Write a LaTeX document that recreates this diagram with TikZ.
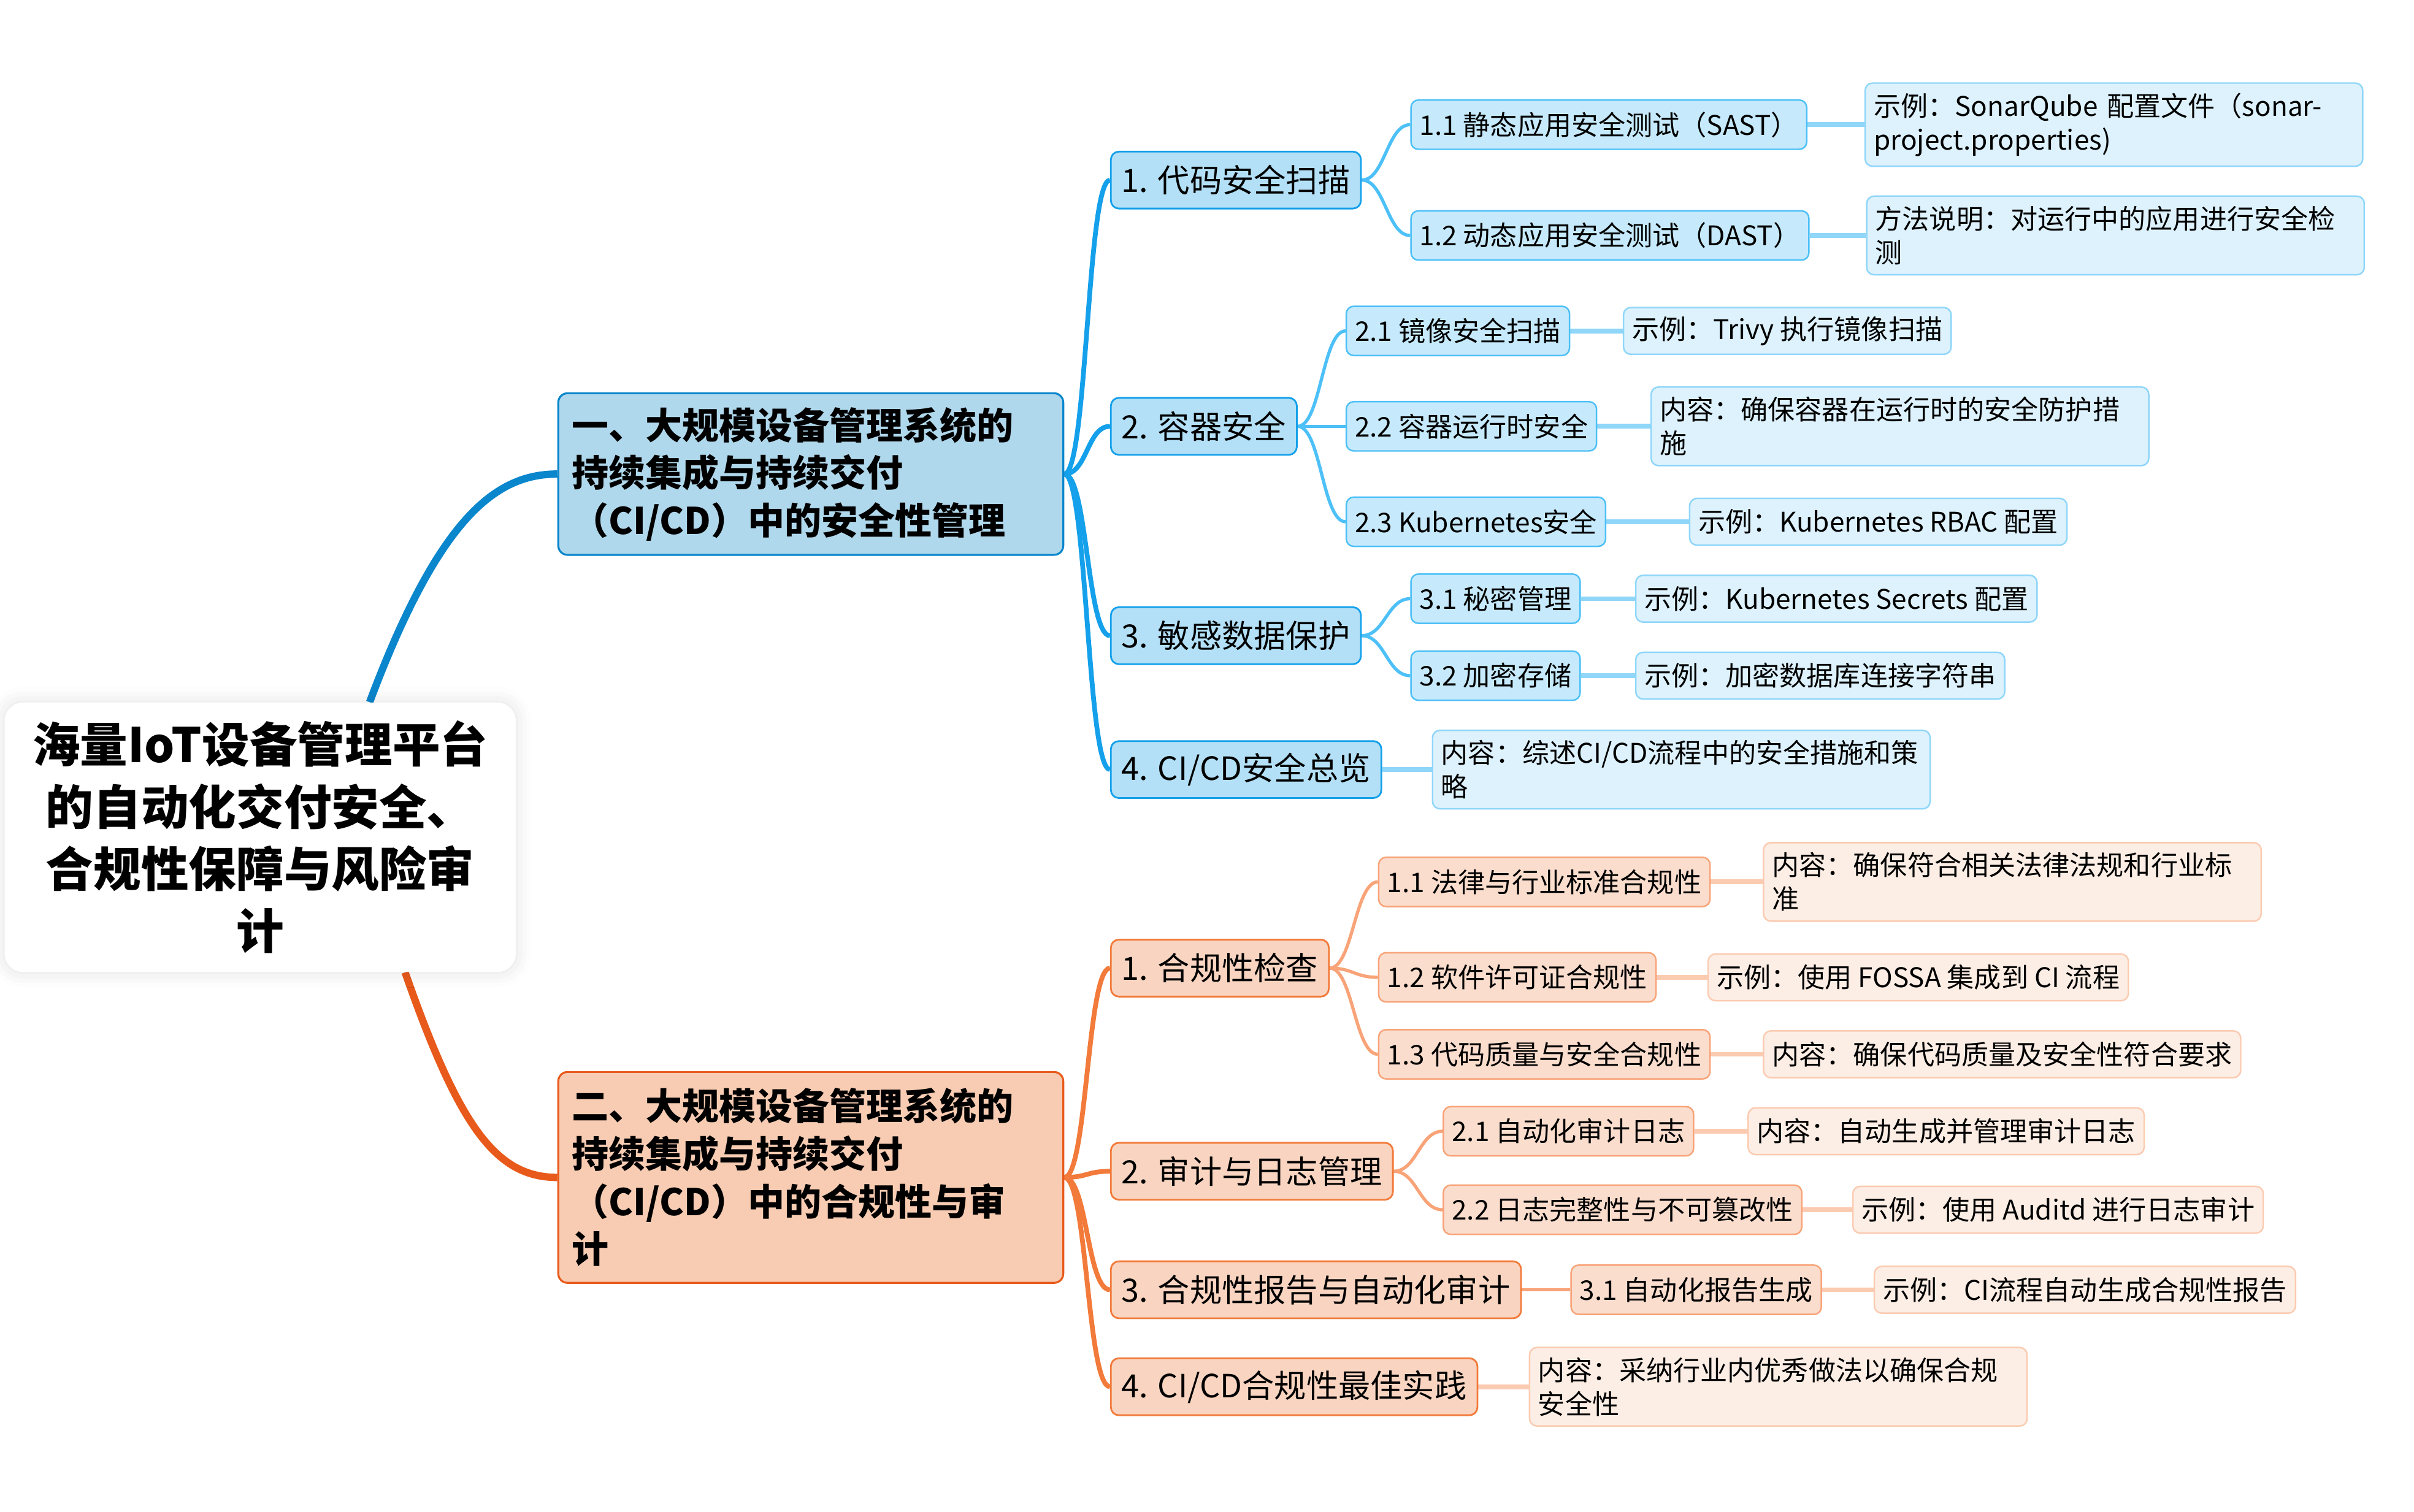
\documentclass[tikz,border=0pt]{standalone}
\usepackage{fontspec}
\setmainfont{Noto Sans CJK SC}
\usetikzlibrary{backgrounds,shadows.blur}

\definecolor{secline}{HTML}{0A86CC}
\definecolor{secfill}{HTML}{B0D8EC}
\definecolor{secAline}{HTML}{14A0EA}
\definecolor{secAfill}{HTML}{B3E0F6}
\definecolor{secBline}{HTML}{4DC0F7}
\definecolor{secBfill}{HTML}{C6EAFC}
\definecolor{secCline}{HTML}{8FD6F9}
\definecolor{secCfill}{HTML}{DDF2FD}
\definecolor{cmpline}{HTML}{E85A1B}
\definecolor{cmpfill}{HTML}{F7CCB2}
\definecolor{cmpAline}{HTML}{F27A3A}
\definecolor{cmpAfill}{HTML}{F9D5C1}
\definecolor{cmpBline}{HTML}{F8A378}
\definecolor{cmpBfill}{HTML}{FADDCD}
\definecolor{cmpCline}{HTML}{FBCBB1}
\definecolor{cmpCfill}{HTML}{FDEEE5}

\begin{document}
\begin{tikzpicture}[x=0.25mm,y=-0.25mm,line cap=round,line join=round,
  rootbox/.style={fill=white,rounded corners=3mm,minimum width=83mm,minimum height=43.75mm,
    align=center,font=\fontsize{22pt}{28.7pt}\selectfont\bfseries,
    blur shadow={shadow xshift=0pt,shadow yshift=0pt,shadow blur radius=2.5mm,shadow opacity=12}},
  headbox/.style={anchor=west,rounded corners=1.5mm,line width=0.9pt,text width=77.6mm,
    inner xsep=2.2mm,align=left,font=\fontsize{17pt}{22pt}\selectfont\bfseries},
  topicbox/.style={anchor=west,rounded corners=1.3mm,line width=0.8pt,minimum height=9.25mm,
    inner xsep=1.75mm,font=\fontsize{14.8pt}{18pt}\selectfont},
  subbox/.style={anchor=west,rounded corners=1.2mm,line width=0.7pt,minimum height=8mm,
    inner xsep=1.4mm,font=\fontsize{12.5pt}{15.6pt}\selectfont},
  notebox/.style={subbox,minimum height=7.6mm},
  widenote/.style={notebox,text width=78mm,align=left,inner ysep=1.6mm},
  secA/.style={topicbox,fill=secAfill,draw=secAline},
  secB/.style={subbox,fill=secBfill,draw=secBline},
  secC/.style={notebox,fill=secCfill,draw=secCline},
  cmpA/.style={topicbox,fill=cmpAfill,draw=cmpAline},
  cmpB/.style={subbox,fill=cmpBfill,draw=cmpBline},
  cmpC/.style={notebox,fill=cmpCfill,draw=cmpCline},
  trunk/.style={line width=3.4pt},
  limb/.style={line width=2.2pt},
  twig/.style={line width=1.5pt},
  leafline/.style={line width=2.2pt}]
  \useasboundingbox (0,0) rectangle (1568,982);

  % root and the two main branches
  \node[rootbox] (root) at (169,544) {海量IoT设备管理平台\\的自动化交付安全、\\合规性保障与风险审\\计};
  \node[headbox,fill=secfill,draw=secline,minimum height=26.25mm] (sec) at (362,308)
    {一、大规模设备管理系统的\\持续集成与持续交付\\（CI/CD）中的安全性管理};
  \node[headbox,fill=cmpfill,draw=cmpline,minimum height=34.25mm] (cmp) at (362,765)
    {二、大规模设备管理系统的\\持续集成与持续交付\\（CI/CD）中的合规性与审\\计};

  % security branch
  \node[secA] (sec1) at (721,117) {1. 代码安全扫描};
  \node[secA] (sec2) at (721,277) {2. 容器安全};
  \node[secA] (sec3) at (721,413) {3. 敏感数据保护};
  \node[secA] (sec4) at (721,500) {4. CI/CD安全总览};
  \node[secB] (sec11) at (916,81) {1.1 静态应用安全测试（SAST）};
  \node[secB] (sec12) at (916,153) {1.2 动态应用安全测试（DAST）};
  \node[secB] (sec21) at (874,215) {2.1 镜像安全扫描};
  \node[secB] (sec22) at (874,277) {2.2 容器运行时安全};
  \node[secB] (sec23) at (874,339) {2.3 Kubernetes安全};
  \node[secB] (sec31) at (916,389) {3.1 秘密管理};
  \node[secB] (sec32) at (916,439) {3.2 加密存储};
  \node[secC,widenote] (sec11x) at (1211,81) {示例：SonarQube 配置文件（sonar-\\project.properties)};
  \node[secC,widenote] (sec12x) at (1212,153) {方法说明：对运行中的应用进行安全检\\测};
  \node[secC] (sec21x) at (1054,215) {示例：Trivy 执行镜像扫描};
  \node[secC,widenote] (sec22x) at (1072,277) {内容：确保容器在运行时的安全防护措\\施};
  \node[secC] (sec23x) at (1097,339) {示例：Kubernetes RBAC 配置};
  \node[secC] (sec31x) at (1062,389) {示例：Kubernetes Secrets 配置};
  \node[secC] (sec32x) at (1062,439) {示例：加密数据库连接字符串};
  \node[secC,widenote] (sec4x) at (930,500) {内容：综述CI/CD流程中的安全措施和策\\略};

  % compliance branch
  \node[cmpA] (cmp1) at (721,629) {1. 合规性检查};
  \node[cmpA] (cmp2) at (721,761) {2. 审计与日志管理};
  \node[cmpA] (cmp3) at (721,838) {3. 合规性报告与自动化审计};
  \node[cmpA] (cmp4) at (721,901) {4. CI/CD合规性最佳实践};
  \node[cmpB] (cmp11) at (895,573) {1.1 法律与行业标准合规性};
  \node[cmpB] (cmp12) at (895,635) {1.2 软件许可证合规性};
  \node[cmpB] (cmp13) at (895,685) {1.3 代码质量与安全合规性};
  \node[cmpB] (cmp21) at (937,735) {2.1 自动化审计日志};
  \node[cmpB] (cmp22) at (937,786) {2.2 日志完整性与不可篡改性};
  \node[cmpB] (cmp31) at (1020,838) {3.1 自动化报告生成};
  \node[cmpC,widenote] (cmp11x) at (1145,573) {内容：确保符合相关法律法规和行业标\\准};
  \node[cmpC] (cmp12x) at (1109,635) {示例：使用 FOSSA 集成到 CI 流程};
  \node[cmpC] (cmp13x) at (1145,685) {内容：确保代码质量及安全性符合要求};
  \node[cmpC] (cmp21x) at (1135,735) {内容：自动生成并管理审计日志};
  \node[cmpC] (cmp22x) at (1203,786) {示例：使用 Auditd 进行日志审计};
  \node[cmpC] (cmp31x) at (1217,838) {示例：CI流程自动生成合规性报告};
  \node[cmpC,widenote] (cmp4x) at (993,901) {内容：采纳行业内优秀做法以确保合规\\安全性};

  \begin{scope}[on background layer]
    \draw[trunk,secline] (root.51) .. controls +(45,-120) and +(-40,0) .. (sec.west);
    \draw[trunk,cmpline] (root.-43) .. controls +(35,100) and +(-40,0) .. (cmp.west);
    \foreach \t in {sec1,sec2,sec3,sec4}
      \draw[limb,secAline] (sec.east) .. controls +(15,0) and +(-15,0) .. (\t.west);
    \foreach \t in {cmp1,cmp2,cmp3,cmp4}
      \draw[limb,cmpAline] (cmp.east) .. controls +(15,0) and +(-15,0) .. (\t.west);
    \foreach \p/\t in {sec1/sec11,sec1/sec12,sec2/sec21,sec2/sec22,sec2/sec23,sec3/sec31,sec3/sec32}
      \draw[twig,secBline] (\p.east) .. controls +(15,0) and +(-15,0) .. (\t.west);
    \foreach \p/\t in {cmp1/cmp11,cmp1/cmp12,cmp1/cmp13,cmp2/cmp21,cmp2/cmp22,cmp3/cmp31}
      \draw[twig,cmpBline] (\p.east) .. controls +(15,0) and +(-15,0) .. (\t.west);
    \foreach \t in {sec11,sec12,sec21,sec22,sec23,sec31,sec32,sec4}
      \draw[leafline,secCline] (\t.east) -- (\t x.west);
    \foreach \t in {cmp11,cmp12,cmp13,cmp21,cmp22,cmp31,cmp4}
      \draw[leafline,cmpCline] (\t.east) -- (\t x.west);
  \end{scope}
\end{tikzpicture}
\end{document}
